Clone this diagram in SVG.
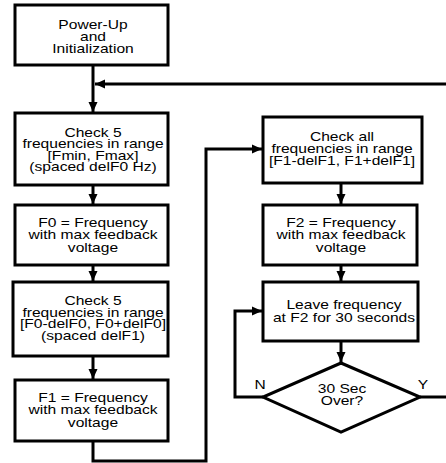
<svg xmlns="http://www.w3.org/2000/svg" width="446" height="463" viewBox="0 0 446 463">
<style>
.box{fill:#fff;stroke:#000;stroke-width:3}
.ln{fill:none;stroke:#000;stroke-width:3}
.t{font-family:"Liberation Sans",Arial,sans-serif;font-size:12px;fill:#000;text-anchor:middle}
</style>
<defs>
<marker id="ah" markerUnits="userSpaceOnUse" markerWidth="10" markerHeight="10" viewBox="0 0 10 10" refX="10" refY="5" orient="auto">
<path d="M0,0.5 L10,5 L0,9.5 Z" fill="#000"/>
</marker>
</defs>
<g id="connectors">
<line class="ln" x1="93" y1="65" x2="93" y2="112" marker-end="url(#ah)"/>
<line class="ln" x1="446" y1="84" x2="95" y2="84" marker-end="url(#ah)"/>
<line class="ln" x1="93" y1="185" x2="93" y2="204" marker-end="url(#ah)"/>
<line class="ln" x1="93" y1="265" x2="93" y2="281" marker-end="url(#ah)"/>
<line class="ln" x1="93" y1="356" x2="93" y2="379" marker-end="url(#ah)"/>
<polyline class="ln" points="93,441 93,461 206,461 206,149 262,149" marker-end="url(#ah)"/>
<line class="ln" x1="341" y1="183" x2="341" y2="204" marker-end="url(#ah)"/>
<line class="ln" x1="341" y1="265" x2="341" y2="281" marker-end="url(#ah)"/>
<line class="ln" x1="341" y1="341" x2="341" y2="362" marker-end="url(#ah)"/>
<polyline class="ln" points="263,397 235,397 235,311 262,311" marker-end="url(#ah)"/>
<line class="ln" x1="420" y1="397" x2="446" y2="397"/>
</g>
<g id="n1">
<rect class="box" x="15" y="5" width="153" height="60"/>
<text class="t" transform="translate(93 0) scale(1.3 1)"><tspan x="0" y="29">Power-Up</tspan><tspan x="0" y="41">and</tspan><tspan x="0" y="53">Initialization</tspan></text>
</g>
<g id="n2">
<rect class="box" x="15" y="113" width="153" height="72"/>
<text class="t" transform="translate(93 0) scale(1.3 1)"><tspan x="0" y="137">Check 5</tspan><tspan x="0" y="148.5">frequencies in range</tspan><tspan x="0" y="160">[Fmin, Fmax]</tspan><tspan x="0" y="171.5">(spaced delF0 Hz)</tspan></text>
</g>
<g id="n3">
<rect class="box" x="15" y="205" width="153" height="60"/>
<text class="t" transform="translate(93 0) scale(1.3 1)"><tspan x="0" y="227">F0 = Frequency</tspan><tspan x="0" y="239.5">with max feedback</tspan><tspan x="0" y="252">voltage</tspan></text>
</g>
<g id="n4">
<rect class="box" x="13" y="282" width="155" height="74"/>
<text class="t" transform="translate(93 0) scale(1.3 1)"><tspan x="0" y="305.5">Check 5</tspan><tspan x="0" y="317">frequencies in range</tspan><tspan x="0" y="328.5">[F0-delF0, F0+delF0]</tspan><tspan x="0" y="340">(spaced delF1)</tspan></text>
</g>
<g id="n5">
<rect class="box" x="15" y="380" width="153" height="61"/>
<text class="t" transform="translate(93 0) scale(1.3 1)"><tspan x="0" y="402">F1 = Frequency</tspan><tspan x="0" y="414.5">with max feedback</tspan><tspan x="0" y="427">voltage</tspan></text>
</g>
<g id="n6">
<rect class="box" x="263" y="117" width="159" height="66"/>
<text class="t" transform="translate(342 0) scale(1.3 1)"><tspan x="0" y="141">Check all</tspan><tspan x="0" y="153">frequencies in range</tspan><tspan x="0" y="165">[F1-delF1, F1+delF1]</tspan></text>
</g>
<g id="n7">
<rect class="box" x="263" y="205" width="154" height="60"/>
<text class="t" transform="translate(341 0) scale(1.3 1)"><tspan x="0" y="227">F2 = Frequency</tspan><tspan x="0" y="239.5">with max feedback</tspan><tspan x="0" y="252">voltage</tspan></text>
</g>
<g id="n8">
<rect class="box" x="263" y="282" width="155" height="59"/>
<text class="t" transform="translate(344 0) scale(1.3 1)"><tspan x="0" y="309.5">Leave frequency</tspan><tspan x="0" y="322.5">at F2 for 30 seconds</tspan></text>
</g>
<g id="n9">
<polygon class="box" points="341,363 420,397 341,432 263,397"/>
<text class="t" transform="translate(342 0) scale(1.3 1)"><tspan x="0" y="393">30 Sec</tspan><tspan x="0" y="405.5">Over?</tspan></text>
<text class="t" transform="translate(260 0) scale(1.3 1)" x="0" y="389">N</text>
<text class="t" transform="translate(423 0) scale(1.3 1)" x="0" y="389">Y</text>
</g>
</svg>
